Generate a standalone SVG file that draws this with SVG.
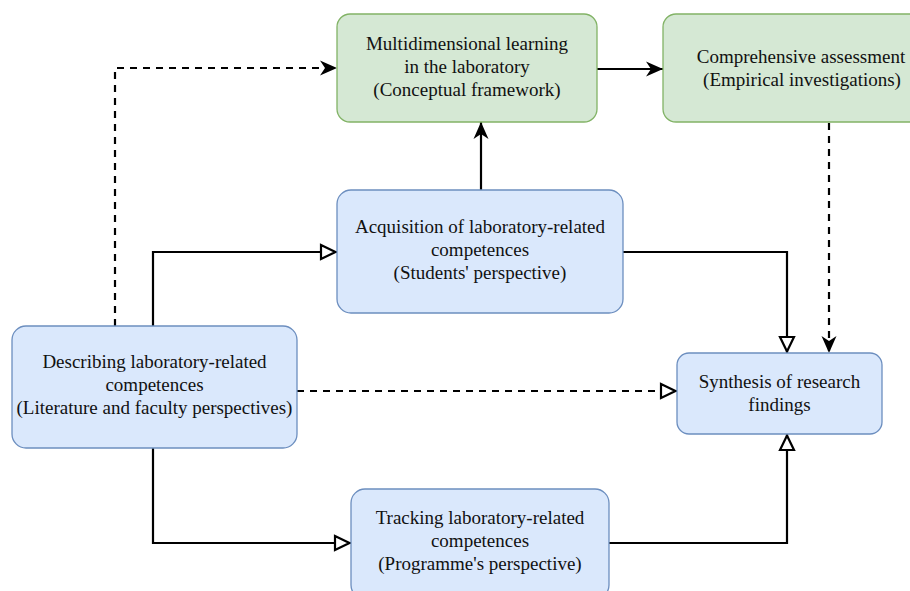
<svg xmlns="http://www.w3.org/2000/svg" width="910" height="591" viewBox="0 0 910 591">
<style>
.green{fill:#d5e8d4;stroke:#82b366;stroke-width:1.3}
.blue{fill:#dae8fc;stroke:#6c8ebf;stroke-width:1.3}
.t{font-family:"Liberation Serif","Times New Roman",serif;font-size:19px;fill:#111;text-anchor:middle}
.c{fill:none;stroke:#000;stroke-width:2.2}
.d{stroke-dasharray:7 6}
</style>
<defs>
<marker id="fa" markerUnits="userSpaceOnUse" viewBox="-20 -10 24 20" markerWidth="24" markerHeight="20" refX="0" refY="0" orient="auto" overflow="visible">
<path d="M-17,-7.5 L0,0 L-17,7.5 L-12,0 Z" fill="#000"/>
</marker>
<marker id="ha" markerUnits="userSpaceOnUse" viewBox="-20 -10 24 20" markerWidth="24" markerHeight="20" refX="0" refY="0" orient="auto" overflow="visible">
<path d="M-16,-7 L-1.5,0 L-16,7 Z" fill="#fff" stroke="#000" stroke-width="2.2"/>
</marker>
</defs>
<g id="connectors">
<path class="c d" d="M115,326 V68 H337" marker-end="url(#fa)"/>
<path class="c" d="M153,326 V252 H337" marker-end="url(#ha)"/>
<path class="c" d="M153,448 V543 H351" marker-end="url(#ha)"/>
<path class="c d" d="M297,391 H677" marker-end="url(#ha)"/>
<path class="c" d="M481,190 V122" marker-end="url(#fa)"/>
<path class="c" d="M597,69 H663" marker-end="url(#fa)"/>
<path class="c d" d="M829,123 V353" marker-end="url(#fa)"/>
<path class="c" d="M623,252 H787 V353" marker-end="url(#ha)"/>
<path class="c" d="M609,543 H787 V434" marker-end="url(#ha)"/>
</g>
<g id="multidimensional">
<rect class="green" x="337" y="14" width="260" height="108" rx="13"/>
<text class="t" x="467" y="50">Multidimensional learning</text>
<text class="t" x="467" y="73">in the laboratory</text>
<text class="t" x="467" y="96">(Conceptual framework)</text>
</g>
<g id="comprehensive">
<rect class="green" x="663" y="14" width="270" height="108" rx="13"/>
<text class="t" x="801" y="63">Comprehensive assessment</text>
<text class="t" x="802" y="86">(Empirical investigations)</text>
</g>
<g id="acquisition">
<rect class="blue" x="337" y="190" width="286" height="123" rx="14"/>
<text class="t" x="480" y="233">Acquisition of laboratory-related</text>
<text class="t" x="480" y="256">competences</text>
<text class="t" x="480" y="279">(Students' perspective)</text>
</g>
<g id="describing">
<rect class="blue" x="12" y="326" width="285" height="122" rx="14"/>
<text class="t" x="154.5" y="368">Describing laboratory-related</text>
<text class="t" x="154.5" y="391">competences</text>
<text class="t" x="154.5" y="414">(Literature and faculty perspectives)</text>
</g>
<g id="synthesis">
<rect class="blue" x="677" y="353" width="205" height="81" rx="12"/>
<text class="t" x="779.5" y="388">Synthesis of research</text>
<text class="t" x="779.5" y="411">findings</text>
</g>
<g id="tracking">
<rect class="blue" x="351" y="489" width="258" height="110" rx="14"/>
<text class="t" x="480" y="524">Tracking laboratory-related</text>
<text class="t" x="480" y="547">competences</text>
<text class="t" x="480" y="570">(Programme's perspective)</text>
</g>
</svg>
